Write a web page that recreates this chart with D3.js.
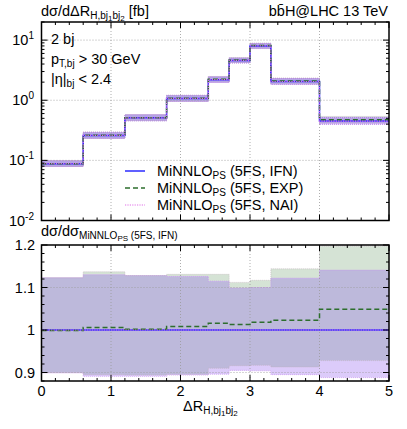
<!DOCTYPE html>
<html>
<head>
<meta charset="utf-8">
<script src="https://cdn.jsdelivr.net/npm/d3@7"></script>
<style>
  body { margin: 0; background: #fff; }
  text { font-family: "Liberation Sans", Arial, sans-serif; fill: #000; }
</style>
</head>
<body>
<div id="chart"></div>
<script>
// bin edges in Delta R
var binEdges = [0, 0.6, 1.2, 1.8, 2.4, 2.7, 3.0, 3.3, 4.0, 5.0];
// IFN central values [fb]
var xsecIFN = [0.088, 0.26, 0.51, 1.07, 2.2, 4.6, 8.0, 2.05, 0.45];
// ratios to IFN
var ratioEXP = [0.999, 1.006, 1.002, 1.008, 1.016, 1.013, 1.018, 1.023, 1.049];
var ratioNAI = [1.0, 1.0, 1.0, 1.0, 1.0, 1.0, 1.0, 1.0, 1.0];
// uncertainty bands (relative to IFN)
var bandEXPlo = [0.900, 0.895, 0.894, 0.896, 0.910, 0.916, 0.917, 0.913, 0.928];
var bandEXPhi = [1.123, 1.137, 1.128, 1.131, 1.131, 1.112, 1.117, 1.144, 1.197];
var bandNAIlo = [0.899, 0.891, 0.891, 0.894, 0.896, 0.905, 0.904, 0.895, 0.888];
var bandNAIhi = [1.123, 1.130, 1.128, 1.126, 1.115, 1.099, 1.100, 1.122, 1.141];

var xTicks = [0, 1, 2, 3, 4, 5];
var upTicks = [0.01, 0.1, 1, 10];
var upTickExp = ["-2", "-1", "0", "1"];
var loTicks = [0.9, 1.0, 1.1, 1.2];
var loTickLabels = ["0.9", "1", "1.1", "1.2"];

var svgW = 407, svgH = 429;
var fs = 14.5, fsSub = 10, fsSub2 = 8;
var svg = d3.select("#chart").append("svg")
    .attr("width", svgW)
    .attr("height", svgH);

var x = d3.scaleLinear().domain([0, 5]).range([41.5, 389]);
var yUp = d3.scaleLog().domain([0.01, 20]).range([220.5, 22]);
var yLo = d3.scaleLinear().domain([0.88, 1.2]).range([381, 245]);

var nb = xsecIFN.length;
function stepPts(vals) {
    return binEdges.map((e, i) => ({ x: e, y: vals[Math.min(i, nb - 1)] }));
}
function bandPts(lo, hi) {
    return binEdges.map((e, i) => ({ x: e, lo: lo[Math.min(i, nb - 1)], hi: hi[Math.min(i, nb - 1)] }));
}

var ovLo = bandEXPlo.map((v, i) => Math.max(v, bandNAIlo[i]));
var ovHi = bandEXPhi.map((v, i) => Math.min(v, bandNAIhi[i]));

var colIFN = "#2b2bff", colEXP = "#2d6e2d", colNAI = "#e070e8";

function drawPanel(y, scaleVal, cols) {
    var g = svg.append("g");
    var area = d3.area().curve(d3.curveStepAfter)
        .x(d => x(d.x)).y0(d => y(d.lo * scaleVal(d.x))).y1(d => y(d.hi * scaleVal(d.x)));
    g.append("path").datum(bandPts(bandEXPlo, bandEXPhi)).attr("d", area).attr("fill", cols.green);
    g.append("path").datum(bandPts(bandNAIlo, bandNAIhi)).attr("d", area).attr("fill", cols.violet);
    g.append("path").datum(bandPts(ovLo, ovHi)).attr("d", area).attr("fill", cols.overlap);

    var edgeLine = function (key) {
        return d3.line().curve(d3.curveStepAfter).x(d => x(d.x)).y(d => y(d[key] * scaleVal(d.x)));
    };
    [["lo", bandNAIlo], ["hi", bandNAIhi]].forEach(function (p) {
        g.append("path").datum(bandPts(p[1], p[1])).attr("d", edgeLine(p[0]))
            .attr("fill", "none").attr("stroke", cols.edge).attr("stroke-width", cols.edgeW)
            .attr("stroke-dasharray", "1,1");
    });
    [["lo", bandEXPlo], ["hi", bandEXPhi]].forEach(function (p) {
        g.append("path").datum(bandPts(p[1], p[1])).attr("d", edgeLine(p[0]))
            .attr("fill", "none").attr("stroke", "#c0b0b8").attr("stroke-width", 0.6)
            .attr("stroke-dasharray", "1,1");
    });
    return g;
}

// scale relative bands into absolute in upper panel
function ifnAt(xv) {
    var i = d3.bisectRight(binEdges, xv) - 1;
    return xsecIFN[Math.max(0, Math.min(i, nb - 1))];
}

var gUp = drawPanel(yUp, ifnAt, { green: "#c8d4d8", violet: "#d2bcf6", overlap: "#b6a6e6", edge: "#b070e8", edgeW: 1 });
var gLo = drawPanel(yLo, () => 1, { green: "#d5e3d5", violet: "#dccbfa", overlap: "#bdb9db", edge: "#c890f0", edgeW: 0.7 });

// grid lines
function grid(g, yv, y, top, bot) {
    [1, 2, 3, 4].forEach(v => {
        g.append("line").attr("x1", x(v)).attr("x2", x(v)).attr("y1", top).attr("y2", bot)
            .attr("stroke", "#999").attr("stroke-width", 0.8).attr("stroke-dasharray", "1,2");
    });
    yv.forEach(v => {
        g.append("line").attr("x1", x(0)).attr("x2", x(5)).attr("y1", y(v)).attr("y2", y(v))
            .attr("stroke", "#999").attr("stroke-width", 0.8).attr("stroke-dasharray", "1,2");
    });
}
grid(gUp, [0.1, 1, 10], yUp, 22, 220.5);
grid(gLo, [0.9, 1.1], yLo, 245, 381);

// central lines
function drawLines(g, y, vals) {
    var line = d3.line().curve(d3.curveStepAfter).x(d => x(d.x)).y(d => y(d.y));
    g.append("path").datum(stepPts(vals.ifn)).attr("d", line)
        .attr("fill", "none").attr("stroke", colIFN).attr("stroke-width", 1.5);
    g.append("path").datum(stepPts(vals.exp)).attr("d", line)
        .attr("fill", "none").attr("stroke", colEXP).attr("stroke-width", 1.5).attr("stroke-dasharray", "5,3");
    g.append("path").datum(stepPts(vals.nai)).attr("d", line)
        .attr("fill", "none").attr("stroke", colNAI).attr("stroke-width", 1.2).attr("stroke-dasharray", "1.2,1.2");
}
drawLines(gUp, yUp, {
    ifn: xsecIFN,
    exp: xsecIFN.map((v, i) => v * ratioEXP[i]),
    nai: xsecIFN.map((v, i) => v * ratioNAI[i])
});
drawLines(gLo, yLo, {
    ifn: xsecIFN.map(() => 1),
    exp: ratioEXP,
    nai: ratioNAI
});

// frames and ticks
function frame(top, bot) {
    svg.append("rect").attr("x", x(0)).attr("y", top).attr("width", x(5) - x(0)).attr("height", bot - top)
        .attr("fill", "none").attr("stroke", "#000").attr("stroke-width", 1.5);
}
function xTickMarks(top, bot) {
    d3.range(0, 5.01, 0.2).forEach(v => {
        var major = Math.abs(v - Math.round(v)) < 1e-6;
        var len = major ? 6 : 3;
        svg.append("line").attr("x1", x(v)).attr("x2", x(v)).attr("y1", bot).attr("y2", bot - len)
            .attr("stroke", "#000").attr("stroke-width", 1);
        svg.append("line").attr("x1", x(v)).attr("x2", x(v)).attr("y1", top).attr("y2", top + len)
            .attr("stroke", "#000").attr("stroke-width", 1);
    });
}
function yTickMarks(y, vals, majorSet) {
    vals.forEach(v => {
        var major = majorSet(v);
        var len = major ? 6 : 3;
        svg.append("line").attr("x1", x(0)).attr("x2", x(0) + len).attr("y1", y(v)).attr("y2", y(v))
            .attr("stroke", "#000").attr("stroke-width", 1);
        svg.append("line").attr("x1", x(5)).attr("x2", x(5) - len).attr("y1", y(v)).attr("y2", y(v))
            .attr("stroke", "#000").attr("stroke-width", 1);
    });
}

frame(22, 220.5);
frame(245, 381);
xTickMarks(22, 220.5);
xTickMarks(245, 381);

var logTicks = [];
[-2, -1, 0, 1].forEach(d => {
    for (var k = 1; k <= 9; k++) {
        var v = k * Math.pow(10, d);
        if (v <= 20) logTicks.push(v);
    }
});
yTickMarks(yUp, logTicks, v => upTicks.some(t => Math.abs(t - v) / t < 1e-6));
yTickMarks(yLo, d3.range(0.88, 1.2001, 0.02), v => Math.abs(v * 10 - Math.round(v * 10)) < 1e-6);

// rich text helper: segments [text, size, dy]
function rich(xp, yp, segs, anchor) {
    var t = svg.append("text").attr("x", xp).attr("y", yp).attr("text-anchor", anchor || "start");
    segs.forEach(s => {
        t.append("tspan").attr("font-size", s[1] + "px").attr("dy", s[2] || 0).text(s[0]);
    });
    return t;
}

// y tick labels
upTicks.forEach((v, i) => {
    rich(34, yUp(v) + 5, [["10", fs], [upTickExp[i], fsSub, -6]], "end");
});
loTicks.forEach((v, i) => {
    svg.append("text").attr("x", 35).attr("y", yLo(v) + 5).attr("text-anchor", "end")
        .attr("font-size", fs + "px").text(loTickLabels[i]);
});
xTicks.forEach(v => {
    svg.append("text").attr("x", x(v)).attr("y", 396).attr("text-anchor", "middle")
        .attr("font-size", fs + "px").text(v);
});

// titles
rich(41, 16, [["dσ/dΔR", fs], ["H,bj", fsSub, 3], ["1", fsSub2, 2], ["bj", fsSub, -2], ["2", fsSub2, 2], [" [fb]", fs, -5]]);
svg.append("text").attr("x", 388).attr("y", 16).attr("text-anchor", "end")
    .attr("font-size", fs + "px").text("bb\u0304H@LHC 13 TeV");

rich(51, 44, [["2 bj", fs]]);
rich(51, 64, [["p", fs], ["T,bj", fsSub, 3], [" > 30 GeV", fs, -3]]);
rich(51, 84, [["|η|", fs], ["bj", fsSub, 3], [" < 2.4", fs, -3]]);

rich(41, 236, [["dσ/dσ", fs], ["MiNNLO", fsSub, 3], ["PS", fsSub2, 2], [" (5FS, IFN)", fsSub, -2]]);

rich(183, 411, [["ΔR", fs], ["H,bj", fsSub, 3], ["1", fsSub2, 2], ["bj", fsSub, -2], ["2", fsSub2, 2]]);

// legend
var legendNames = ["(5FS, IFN)", "(5FS, EXP)", "(5FS, NAI)"];
var legendCols = [colIFN, colEXP, colNAI];
var legendDash = [null, "5,3", "1.2,1.2"];
legendNames.forEach((n, i) => {
    var ly = 171 + i * 17;
    svg.append("line").attr("x1", 125).attr("x2", 145).attr("y1", ly).attr("y2", ly)
        .attr("stroke", legendCols[i]).attr("stroke-width", i === 2 ? 1.2 : 1.5)
        .attr("stroke-dasharray", legendDash[i]);
    rich(157, ly + 5, [["MiNNLO", fs], ["PS", fsSub, 3], [" " + n, fs, -3]]);
});
</script>
</body>
</html>
